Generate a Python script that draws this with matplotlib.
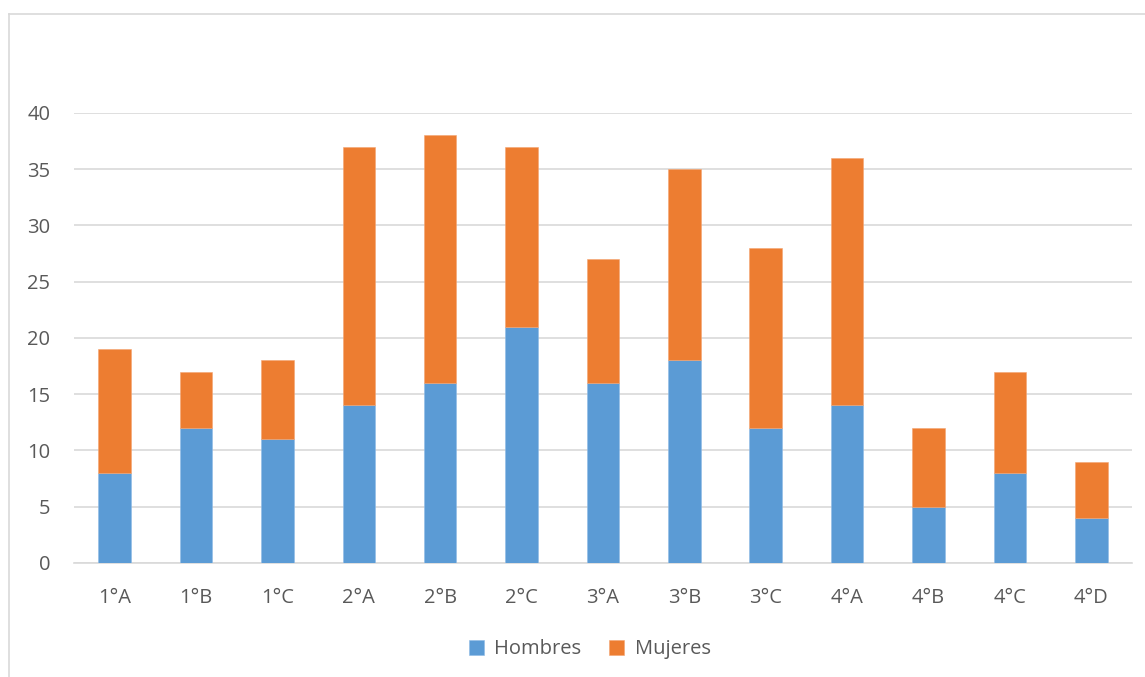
import matplotlib.pyplot as plt
import numpy as np

cursos = ['1°A', '1°B', '1°C', '2°A', '2°B', '2°C', '3°A', '3°B', '3°C',
          '4°A', '4°B', '4°C', '4°D']
hombres = [8, 12, 11, 14, 16, 21, 16, 18, 12, 14, 5, 8, 4]
mujeres = [11, 5, 7, 23, 22, 16, 11, 17, 16, 22, 7, 9, 5]

azul = '#5B9BD5'
naranja = '#ED7D31'
gris_texto = '#595959'

plt.rcParams['font.family'] = ['Open Sans', 'DejaVu Sans']

fig = plt.figure(figsize=(11.45, 6.77), dpi=100)
ax = fig.add_axes([0.0646, 0.1684, 0.924, 0.6647])

x = np.arange(len(cursos))
ax.bar(x, hombres, width=0.4, color=azul, edgecolor='#8EBBE6', linewidth=0.4,
       label='Hombres', zorder=3)
ax.bar(x, mujeres, width=0.4, bottom=hombres, color=naranja, edgecolor='#F4A572',
       linewidth=0.4, label='Mujeres', zorder=3)

ax.set_xlim(-0.5, len(cursos) - 0.5)
ax.set_ylim(0, 40)
ax.set_yticks(range(0, 41, 5))
ax.set_xticks(x)
ax.set_xticklabels(cursos)
ax.yaxis.grid(True, color='#D9D9D9', linewidth=1.2, zorder=0)
ax.set_axisbelow(True)
for s in ['top', 'right', 'left']:
    ax.spines[s].set_visible(False)
ax.spines['bottom'].set_color('#D9D9D9')
ax.spines['bottom'].set_linewidth(1.2)
ax.tick_params(axis='both', length=0, labelsize=14.5, colors=gris_texto)
ax.tick_params(axis='y', pad=17)
ax.tick_params(axis='x', pad=18)

fig.legend(loc='center', bbox_to_anchor=(0.515, 0.041), ncol=2, frameon=False,
           fontsize=14.5, handlelength=0.75, handleheight=0.75, columnspacing=1.4,
           handletextpad=0.5, labelcolor=gris_texto)

# borde del area del grafico
fig.add_artist(plt.Line2D([9 / 1145, 9 / 1145], [0, 1 - 14 / 677], color='#D9D9D9', linewidth=1.2))
fig.add_artist(plt.Line2D([9 / 1145, 1], [1 - 14 / 677, 1 - 14 / 677], color='#D9D9D9', linewidth=1.2))

fig.savefig('out.png', dpi=100)
